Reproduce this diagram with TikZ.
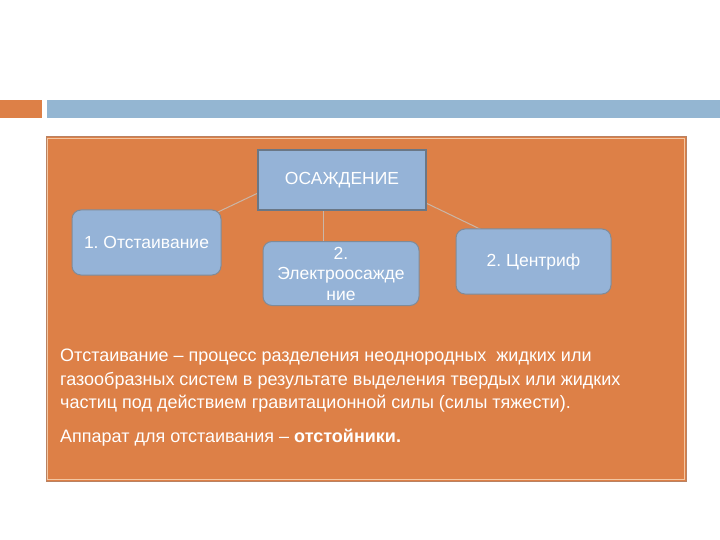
\documentclass[tikz,border=0pt]{standalone}
\usepackage{fontspec}
\setmainfont{Liberation Sans}
\frenchspacing
\definecolor{orng}{HTML}{DD8047}
\definecolor{orngedge}{HTML}{B98262}
\definecolor{orngin}{HTML}{F3C7A2}
\definecolor{barblue}{HTML}{94B6D2}
\definecolor{boxblue}{HTML}{95B3D7}
\definecolor{boxedge}{HTML}{6A7786}
\definecolor{linkgray}{HTML}{C9B6A8}
\begin{document}
\begin{tikzpicture}[x=1pt,y=-1pt,
  parentbox/.style={draw=boxedge,line width=1.4pt,fill=boxblue,text=white,minimum width=168pt,minimum height=60pt,inner sep=2pt,font=\fontsize{17.5}{21}\selectfont},
  childbox/.style={draw=boxedge!85,line width=1pt,fill=boxblue,text=white,rounded corners=9pt,minimum width=150pt,minimum height=64pt,inner sep=2pt,align=center,font=\fontsize{17.5}{20.5}\selectfont},
  linkline/.style={draw=linkgray,line width=1pt},
  bodytext/.style={text=white,anchor=north west,align=left,inner sep=0pt,font=\fontsize{18}{23.5}\selectfont}]
\useasboundingbox (0,0) rectangle (720,540);
\fill[white] (0,0) rectangle (720,540);
% top bars
\fill[orng] (0,100) rectangle (42,118);
\fill[barblue] (47,100) rectangle (720,118);
% main panel
\draw[fill=orng,draw=orngedge,line width=1pt] (46,137) rectangle (686,481);
\draw[draw=orngin,line width=1.2pt] (47.8,138.8) rectangle (684.2,479.2);
% connectors (behind boxes)
\coordinate (c1a) at (258,193);
\coordinate (c1b) at (218,212);
\coordinate (c2a) at (323,210);
\coordinate (c2b) at (323,241);
\coordinate (c3a) at (426,203);
\coordinate (c3b) at (482,230);
\draw[linkline] (c1a) -- (c1b);
\draw[linkline] (c2a) -- (c2b);
\draw[linkline] (c3a) -- (c3b);
% nodes
\node[parentbox] (osa) at (342,180) {ОСАЖДЕНИЕ};
\node[childbox,minimum width=149pt,minimum height=65pt] (otst) at (146.5,242.5) {1. Отстаивание};
\node[childbox,minimum width=156pt,minimum height=64pt] (elek) at (341,273.5) {2.\\Электроосажде\\ние};
\node[childbox,minimum width=155pt,minimum height=65pt] (cent) at (533.5,261.5) {2. Центриф};
% body text
\node[bodytext] (para1) at (60,349) {Отстаивание – процесс разделения неоднородных~ жидких или\\
газообразных систем в результате выделения твердых или жидких\\
частиц под действием гравитационной силы (силы тяжести).};
\node[bodytext] (para2) at (60,429) {Аппарат для отстаивания – \textbf{отстойники.}};
\end{tikzpicture}
\end{document}
